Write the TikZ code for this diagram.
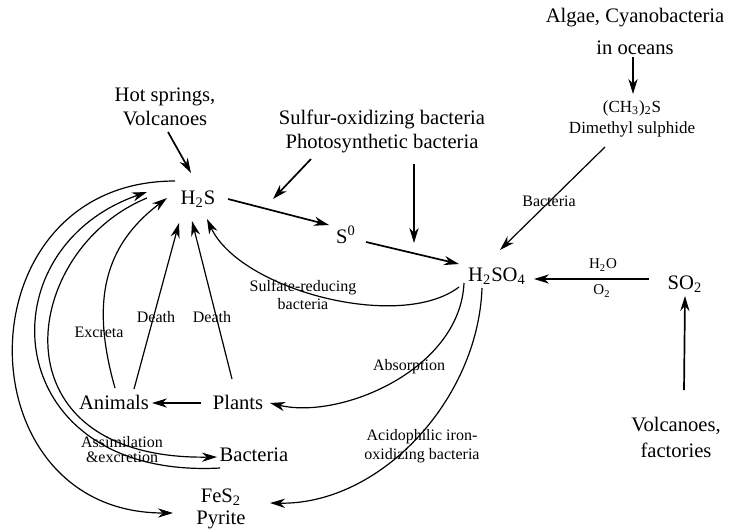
\documentclass[tikz,border=0pt]{standalone}
\usepackage{fontspec}
\setmainfont{Liberation Serif}
\usetikzlibrary{arrows.meta}
\usetikzlibrary{calc}

\begin{document}
\begin{tikzpicture}[x=0.5pt,y=-0.5pt,
    big/.style={inner sep=0pt,align=center,font=\fontsize{10.3}{12}\selectfont},
    small/.style={inner sep=0pt,align=center,font=\fontsize{8}{9}\selectfont},
    arr/.style={-{Stealth[length=7.5pt,width=4.6pt,inset=2.4pt]},line width=0.6pt},
    tarr/.style={arr,line width=0.85pt}]

    \useasboundingbox (0,0) rectangle (731,530);

    % compounds
    \node[big,anchor=base] (h2s) at (198,204) {H\textsubscript{2}S};
    \node[big,anchor=base] (s0) at (346,243) {S\textsuperscript{0}};
    \node[big,anchor=base] (h2so4) at (497,281) {H\textsubscript{2}SO\textsubscript{4}};
    \node[big,anchor=base] (so2) at (685,289) {SO\textsubscript{2}};
    \node[big] (fes2) at (221,509) {FeS\textsubscript{2}\\[-1pt]Pyrite};

    % sources and organisms
    \node[big] (hot) at (165,107) {Hot springs,\\Volcanoes};
    \node[big] (sulfur) at (382,131) {Sulfur-oxidizing bacteria\\Photosynthetic bacteria};
    \node[big] (algae) at (635,31) {Algae, Cyanobacteria\\[4pt]in oceans};
    \node[small,font=\fontsize{8.5}{10.5}\selectfont] (dms) at (632,119)
        {(CH\textsubscript{3})\textsubscript{2}S\\Dimethyl sulphide};
    \node[big] (volc) at (676,437) {Volcanoes,\\[1pt]factories};
    \node[big,anchor=base] (animals) at (114,409) {Animals};
    \node[big,anchor=base] (plants) at (238,409) {Plants};
    \node[big,anchor=base] (bacteria) at (254,461) {Bacteria};

    % straight arrows
    \draw[tarr] ($(algae)+(-2,26)$) -- ($(dms)+(1,-25)$);
    \draw[arr] ($(dms)+(-27,28)$) -- ($(h2so4.base)+(3,-31)$);
    \draw[tarr] ($(hot)+(3,25)$) -- ($(h2s.base)+(-7,-31)$);
    \draw[tarr] ($(sulfur)+(-71,28)$) -- ($(sulfur)+(-109,68)$);
    \draw[tarr] ($(sulfur)+(32,33)$) -- ($(sulfur)+(32,112)$);
    \draw[tarr] ($(h2s.base)+(30,-5)$) -- ($(s0.base)+(-17,-18)$);
    \draw[tarr] ($(s0.base)+(20,-1)$) -- ($(h2so4.base)+(-38,-17)$);
    \draw[tarr] ($(so2.base)+(-36,-10)$) -- ($(h2so4.base)+(37,-2)$);
    \draw[tarr] ($(volc)+(8,-47)$) -- ($(so2.base)+(0,7)$);
    \draw[tarr] ($(plants.base)+(-37,-6)$) -- ($(animals.base)+(38,-6)$);
    \draw[arr] ($(animals.base)+(20,-20)$) -- ($(h2s.base)+(-19,19)$);
    \draw[arr] ($(plants.base)+(-6,-30)$) -- ($(h2s.base)+(-6,17)$);

    % curved arrows
    \draw[arr] ($(animals.base)+(1,-21)$) .. controls +(-25,-88) and +(-62,47) .. ($(h2s.base)+(-31,-6)$);
    \draw[arr] ($(h2so4.base)+(-38,6)$) .. controls +(-59,45) and +(33,71) .. ($(h2s.base)+(9,15)$);
    \draw[arr] ($(h2so4.base)+(-33,2)$) .. controls +(-4,87) and +(70,17) .. ($(plants.base)+(32,-6)$);
    \draw[arr] ($(h2so4.base)+(-15,7)$) .. controls +(-4,112) and +(110,2) .. ($(fes2)+(49,-6)$);
    \draw[arr] ($(h2s.base)+(-23,-23)$) .. controls +(-215,0) and +(-213,0) .. ($(fes2)+(-48,4)$);
    \draw[arr] ($(bacteria.base)+(-34,7)$) .. controls +(-220,12) and +(-167,58) .. ($(h2s.base)+(-51,-12)$);
    \draw[arr] ($(h2s.base)+(-51,-6)$) .. controls +(-127,52) and +(-227,3) .. ($(bacteria.base)+(-37,-4)$);

    % labels
    \node[small] (lbact) at (549,201) {Bacteria};
    \node[small,font=\fontsize{7.5}{9}\selectfont] (lh2o) at (603,265) {H\textsubscript{2}O};
    \node[small,font=\fontsize{7.5}{9}\selectfont] (lo2) at (602,291) {O\textsubscript{2}};
    \node[small] (lsred) at (303,295) {Sulfate-reducing\\bacteria};
    \node[small] (ldeatha) at (156,317) {Death};
    \node[small] (ldeathb) at (212,317) {Death};
    \node[small] (lexcr) at (99,332) {Excreta};
    \node[small] (labs) at (409,367) {Absorption};
    \node[small,font=\fontsize{8}{9.5}\selectfont] (lacid) at (422,446) {Acidophilic iron-\\oxidizing bacteria};
    \node[small,font=\fontsize{8}{7.5}\selectfont] (lassim) at (122,450) {Assimilation\\\&excretion};
\end{tikzpicture}
\end{document}
